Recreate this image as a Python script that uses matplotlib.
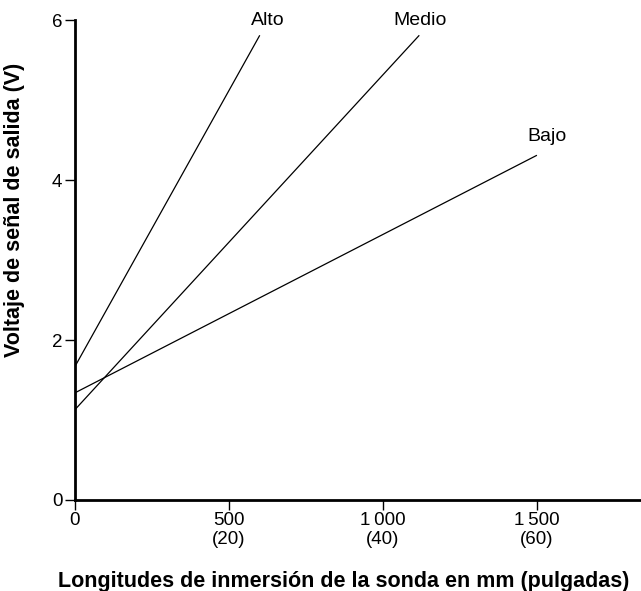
import numpy as np
from matplotlib import pyplot as plt

plt.rcParams['font.family'] = ['Liberation Sans', 'DejaVu Sans']

# line end points (mm, V)
alto_x = [0, 600]
alto_y = [1.67, 5.81]
medio_x = [0, 1118]
medio_y = [1.13, 5.81]
bajo_x = [0, 1500]
bajo_y = [1.34, 4.31]

# label positions
label_names = ["Alto", "Medio", "Bajo"]
label_x = [627, 1120, 1532]
label_y = [6.0, 6.0, 4.54]

xticks = [0, 500, 1000, 1500]
xtick_labels = ["0", "500\n(20)", "1\u2009000\n(40)", "1\u2009500\n(60)"]
yticks = [0, 2, 4, 6]

fig = plt.figure(figsize=(6.41, 5.91), dpi=100)
ax = fig.add_axes([0.117, 0.154, 0.883, 0.812])

for xs, ys in [(alto_x, alto_y), (medio_x, medio_y), (bajo_x, bajo_y)]:
    ax.plot(xs, ys, color='black', linewidth=0.9, solid_capstyle='butt')

for name, lx, ly in zip(label_names, label_x, label_y):
    ax.text(lx, ly, name, ha='center', va='center', fontsize=14)

ax.set_xlim(0, 1838)
ax.set_ylim(0, 6)
ax.set_xticks(xticks)
ax.set_xticklabels(xtick_labels)
ax.set_yticks(yticks)

ax.spines['top'].set_visible(False)
ax.spines['right'].set_visible(False)
ax.spines['left'].set_linewidth(2)
ax.spines['bottom'].set_linewidth(2)
ax.tick_params(axis='both', direction='out', length=7, width=1,
               labelsize=13.5, pad=2)
for t in ax.get_xticklabels():
    t.set_linespacing(1.15)

ax.set_xlabel("Longitudes de inmersión de la sonda en mm (pulgadas)",
              fontsize=15.5, fontweight='bold')
ax.xaxis.set_label_coords(0.474, -0.148)
ax.set_ylabel("Voltaje de señal de salida (V)",
              fontsize=15.5, fontweight='bold')
ax.yaxis.set_label_coords(-0.088, 0.604)

fig.savefig("out.png", dpi=100)
